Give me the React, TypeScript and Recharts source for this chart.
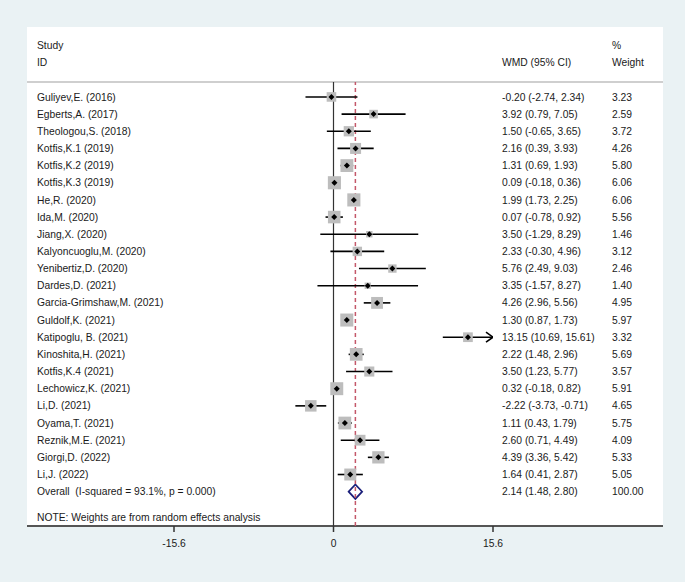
import React from 'react';
import {
  ScatterChart,
  Scatter,
  XAxis,
  YAxis,
  ZAxis,
  ReferenceLine,
  ReferenceArea
} from 'recharts';

const studies = [
  'Guliyev,E. (2016)', 'Egberts,A. (2017)', 'Theologou,S. (2018)', 'Kotfis,K.1 (2019)',
  'Kotfis,K.2 (2019)', 'Kotfis,K.3 (2019)', 'He,R. (2020)', 'Ida,M. (2020)',
  'Jiang,X. (2020)', 'Kalyoncuoglu,M. (2020)', 'Yenibertiz,D. (2020)', 'Dardes,D. (2021)',
  'Garcia-Grimshaw,M. (2021)', 'Guldolf,K. (2021)', 'Katipoglu, B. (2021)', 'Kinoshita,H. (2021)',
  'Kotfis,K.4 (2021)', 'Lechowicz,K. (2021)', 'Li,D. (2021)', 'Oyama,T. (2021)',
  'Reznik,M.E. (2021)', 'Giorgi,D. (2022)', 'Li,J. (2022)'
];
const wmd = [-0.20, 3.92, 1.50, 2.16, 1.31, 0.09, 1.99, 0.07, 3.50, 2.33, 5.76, 3.35, 4.26, 1.30, 13.15, 2.22, 3.50, 0.32, -2.22, 1.11, 2.60, 4.39, 1.64];
const lower = [-2.74, 0.79, -0.65, 0.39, 0.69, -0.18, 1.73, -0.78, -1.29, -0.30, 2.49, -1.57, 2.96, 0.87, 10.69, 1.48, 1.23, -0.18, -3.73, 0.43, 0.71, 3.36, 0.41];
const upper = [2.34, 7.05, 3.65, 3.93, 1.93, 0.36, 2.25, 0.92, 8.29, 4.96, 9.03, 8.27, 5.56, 1.73, 15.61, 2.96, 5.77, 0.82, -0.71, 1.79, 4.49, 5.42, 2.87];
const weights = [3.23, 2.59, 3.72, 4.26, 5.80, 6.06, 6.06, 5.56, 1.46, 3.12, 2.46, 1.40, 4.95, 5.97, 3.32, 5.69, 3.57, 5.91, 4.65, 5.75, 4.09, 5.33, 5.05];

const overallLabel = 'Overall  (I-squared = 93.1%, p = 0.000)';
const overall = { est: 2.14, lo: 1.48, hi: 2.80, weight: 100.0 };
const noteLabel = 'NOTE: Weights are from random effects analysis';

const xTicks = [-15.6, 0, 15.6];
const AXIS_MIN = -15.6;
const AXIS_MAX = 15.6;

const FONT = '"Liberation Sans", Arial, sans-serif';
const FS = 10.3;
const TEXT = '#1a1a1a';

const overallRow = studies.length;
const noteRow = studies.length + 1.5;

const points = studies.map((s, i) => ({ x: wmd[i], y: i, weight: weights[i] }));
const arrows = studies
  .map((s, i) => ({ x: AXIS_MAX, y: i, over: upper[i] > AXIS_MAX }))
  .filter((d) => d.over);

const yTicks = [...studies.map((s, i) => i), overallRow, noteRow];

const f2 = (v: number) => v.toFixed(2);

const RowTick = (props: any) => {
  const { y, payload } = props;
  const v = payload.value;
  let label = '';
  let ci = '';
  let w = '';
  if (v < studies.length) {
    label = studies[v];
    ci = `${f2(wmd[v])} (${f2(lower[v])}, ${f2(upper[v])})`;
    w = f2(weights[v]);
  } else if (v === overallRow) {
    label = overallLabel;
    ci = `${f2(overall.est)} (${f2(overall.lo)}, ${f2(overall.hi)})`;
    w = f2(overall.weight);
  } else {
    label = noteLabel;
  }
  const common = { fontSize: FS, fontFamily: FONT, fill: TEXT, dy: '0.35em', style: { whiteSpace: 'pre' as const } };
  return (
    <g>
      <text x={37} y={y} {...common}>{label}</text>
      {ci && <text x={502} y={y} {...common}>{ci}</text>}
      {w && <text x={612} y={y} {...common}>{w}</text>}
    </g>
  );
};

const StudyMark = (props: any) => {
  const { cx, cy, width, payload } = props;
  const side = typeof width === 'number' && width > 0 ? width : 13 * Math.sqrt(payload.weight / 6.06);
  const d = 3;
  return (
    <g>
      <rect x={cx - side / 2} y={cy - side / 2} width={side} height={side} fill="#bdbdbd" />
      <polygon points={`${cx - d},${cy} ${cx},${cy - d} ${cx + d},${cy} ${cx},${cy + d}`} fill="#000" />
    </g>
  );
};

const ArrowHead = (props: any) => {
  const { cx, cy } = props;
  return (
    <polyline
      points={`${cx - 7},${cy - 5} ${cx},${cy} ${cx - 7},${cy + 5}`}
      fill="none"
      stroke="#000"
      strokeWidth={1.6}
    />
  );
};

const OverallDiamond = (props: any) => {
  const { x, y, width, height } = props;
  const mx = x + width / 2;
  const my = y + height / 2;
  return (
    <polygon
      points={`${x},${my} ${mx},${y} ${x + width},${my} ${mx},${y + height}`}
      fill="#fff"
      stroke="#1b1f7a"
      strokeWidth={1.7}
    />
  );
};

export default function App() {
  return (
    <div style={{ position: 'absolute', left: 0, top: 0, width: 685, height: 582, background: '#eaf2f4', overflow: 'hidden' }}>
      <div style={{ position: 'absolute', left: 27, top: 27, width: 636, height: 499, background: '#fff' }} />
      <div style={{ position: 'absolute', left: 27, top: 81, width: 636, height: 2, background: '#cfcfcf' }} />
      <div style={{ position: 'absolute', left: 27, top: 525, width: 636, height: 2, background: '#555' }} />
      <div style={{ position: 'absolute', left: 0, top: 0 }}>
        <ScatterChart width={685} height={582} margin={{ top: 82, right: 192, bottom: 26, left: 27 }}>
          <XAxis
            type="number"
            dataKey="x"
            domain={[AXIS_MIN, AXIS_MAX]}
            ticks={xTicks}
            allowDataOverflow
            axisLine={false}
            tickLine={{ stroke: '#333', strokeWidth: 1.5 }}
            tickSize={6}
            tickMargin={8}
            height={30}
            tick={{ fontSize: FS, fontFamily: FONT, fill: TEXT }}
          />
          <YAxis
            type="number"
            dataKey="y"
            domain={[-0.87, 25]}
            reversed
            allowDataOverflow
            ticks={yTicks}
            interval={0}
            width={147}
            axisLine={false}
            tickLine={false}
            tick={<RowTick />}
          />
          <ZAxis type="number" dataKey="weight" domain={[0, 6.06]} range={[0, 135]} />
          <ReferenceLine x={0} stroke="#333" strokeWidth={1.2} />
          <ReferenceLine x={overall.est} stroke="#c4586a" strokeWidth={1.5} strokeDasharray="4 3" />
          {studies.map((s, i) => (
            <ReferenceLine
              key={s}
              segment={[
                { x: Math.max(lower[i], AXIS_MIN), y: i },
                { x: Math.min(upper[i], AXIS_MAX), y: i }
              ]}
              stroke="#000"
              strokeWidth={1.6}
            />
          ))}
          <ReferenceArea
            x1={overall.lo}
            x2={overall.hi}
            y1={overallRow - 0.42}
            y2={overallRow + 0.42}
            shape={<OverallDiamond />}
          />
          <Scatter data={points} shape={<StudyMark />} isAnimationActive={false} />
          <Scatter data={arrows} shape={<ArrowHead />} isAnimationActive={false} />
        </ScatterChart>
      </div>
      <svg width={685} height={582} style={{ position: 'absolute', left: 0, top: 0, pointerEvents: 'none' }}>
        <g fontSize={FS} fontFamily={FONT} fill={TEXT}>
          <text x={37} y={45} dy="0.35em">Study</text>
          <text x={37} y={62} dy="0.35em">ID</text>
          <text x={502} y={62} dy="0.35em">WMD (95% CI)</text>
          <text x={612} y={45} dy="0.35em">%</text>
          <text x={612} y={62} dy="0.35em">Weight</text>
        </g>
      </svg>
    </div>
  );
}
